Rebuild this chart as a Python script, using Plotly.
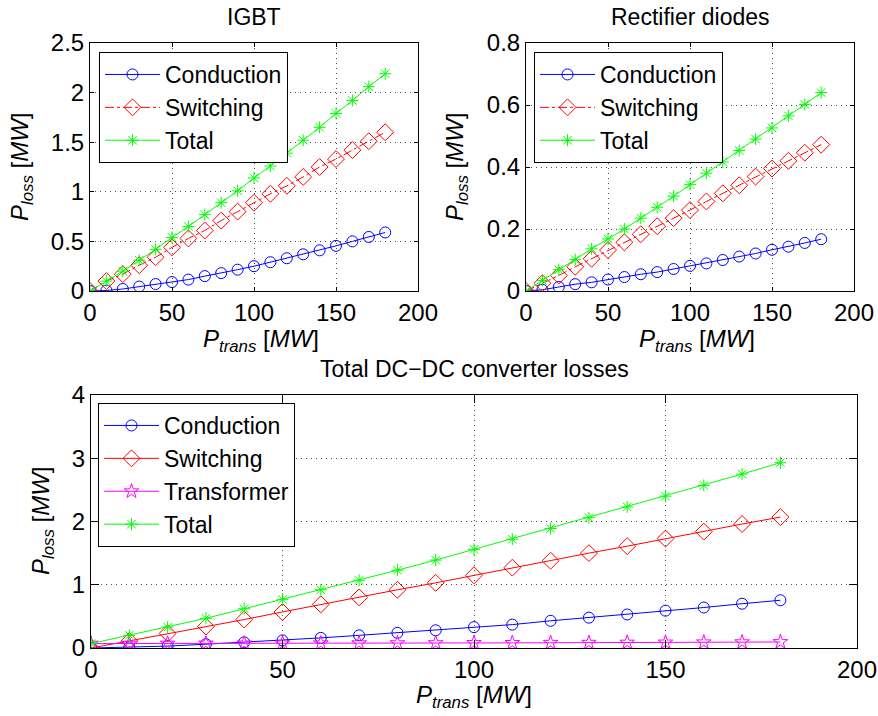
import plotly.graph_objects as go

W, H = 878, 716

x = [0, 10, 20, 30, 40, 50, 60, 70, 80, 90, 100, 110, 120, 130, 140, 150, 160, 170, 180]

igbt_cond = [0, 0.005, 0.02, 0.045, 0.07, 0.09, 0.115, 0.15, 0.18, 0.215, 0.25, 0.29, 0.33, 0.37, 0.41, 0.455, 0.5, 0.545, 0.59]
igbt_sw = [0, 0.1, 0.17, 0.26, 0.34, 0.44, 0.53, 0.61, 0.71, 0.80, 0.89, 0.98, 1.06, 1.15, 1.25, 1.33, 1.42, 1.51, 1.60]
igbt_tot = [0, 0.1, 0.2, 0.31, 0.42, 0.54, 0.65, 0.77, 0.89, 1.01, 1.14, 1.26, 1.39, 1.52, 1.65, 1.79, 1.92, 2.06, 2.19]

rect_cond = [0, 0.004, 0.013, 0.022, 0.028, 0.037, 0.045, 0.054, 0.061, 0.071, 0.081, 0.089, 0.1, 0.111, 0.121, 0.133, 0.143, 0.155, 0.167]
rect_sw = [0, 0.025, 0.05, 0.078, 0.104, 0.132, 0.157, 0.183, 0.209, 0.235, 0.261, 0.289, 0.315, 0.341, 0.369, 0.395, 0.42, 0.446, 0.472]
rect_tot = [0, 0.034, 0.069, 0.101, 0.136, 0.168, 0.2, 0.235, 0.27, 0.306, 0.343, 0.38, 0.416, 0.453, 0.49, 0.526, 0.565, 0.602, 0.64]

dc_cond = [0, 0.01, 0.03, 0.06, 0.09, 0.12, 0.16, 0.2, 0.24, 0.28, 0.33, 0.37, 0.43, 0.48, 0.53, 0.59, 0.64, 0.7, 0.755]
dc_sw = [0, 0.11, 0.23, 0.34, 0.45, 0.57, 0.69, 0.80, 0.92, 1.03, 1.15, 1.27, 1.38, 1.50, 1.61, 1.73, 1.84, 1.96, 2.07]
dc_trafo = [0.07, 0.07, 0.071, 0.072, 0.073, 0.074, 0.075, 0.076, 0.077, 0.078, 0.08, 0.081, 0.083, 0.084, 0.086, 0.088, 0.09, 0.092, 0.095]
dc_tot = [0.07, 0.2, 0.33, 0.47, 0.62, 0.77, 0.92, 1.07, 1.23, 1.39, 1.56, 1.72, 1.89, 2.06, 2.23, 2.40, 2.57, 2.75, 2.93]

titles = ["IGBT", "Rectifier diodes", "Total DC\u2212DC converter losses"]
x_ticks = [0, 50, 100, 150, 200]
y_ticks_igbt = [0, 0.5, 1, 1.5, 2, 2.5]
y_ticks_rect = [0, 0.2, 0.4, 0.6, 0.8]
y_ticks_dc = [0, 1, 2, 3, 4]

BLUE, RED, GREEN, MAG = "#0000ff", "#ff0000", "#00ff00", "#ff00ff"
FONT = "Liberation Sans, Arial, Helvetica, sans-serif"
TICK_SIZE = 24
LEG_SIZE = 23

def px_x(p):
    return p / W

def px_y(p):
    return 1 - p / H

fig = go.Figure()

def add(xa, ya, y, name, color, symbol, size, dash, legend):
    fig.add_trace(go.Scatter(
        x=x, y=y, name=name, mode="lines+markers", xaxis=xa, yaxis=ya,
        line=dict(color=color, width=1, dash=dash),
        marker=dict(symbol=symbol, size=size, color=color, line=dict(color=color, width=1)),
        legend=legend,
    ))

add("x", "y", igbt_cond, "Conduction", BLUE, "circle-open", 11, "solid", "legend")
add("x", "y", igbt_sw, "Switching", RED, "diamond-open", 13, "dashdot", "legend")
add("x", "y", igbt_tot, "Total", GREEN, "asterisk-open", 10, "solid", "legend")

add("x2", "y2", rect_cond, "Conduction", BLUE, "circle-open", 11, "solid", "legend2")
add("x2", "y2", rect_sw, "Switching", RED, "diamond-open", 13, "dashdot", "legend2")
add("x2", "y2", rect_tot, "Total", GREEN, "asterisk-open", 10, "solid", "legend2")

add("x3", "y3", dc_cond, "Conduction", BLUE, "circle-open", 11, "solid", "legend3")
add("x3", "y3", dc_sw, "Switching", RED, "diamond-open", 13, "solid", "legend3")
add("x3", "y3", dc_trafo, "Transformer", MAG, "star-open", 11, "solid", "legend3")
add("x3", "y3", dc_tot, "Total", GREEN, "asterisk-open", 10, "solid", "legend3")

def axis(domain, rng, ticks, anchor, ticklen):
    return dict(
        domain=domain, range=rng, tickvals=ticks, anchor=anchor,
        showline=True, linecolor="black", linewidth=1, mirror="ticks",
        ticks="inside", ticklen=ticklen, tickwidth=1, tickcolor="black",
        showgrid=True, gridcolor="rgba(0,0,0,0.7)", gridwidth=1, griddash="1px,4px",
        zeroline=False, tickfont=dict(size=TICK_SIZE, color="black", family=FONT),
        fixedrange=True, automargin=False,
    )

top_y = [px_y(291), px_y(43)]
bot_y = [px_y(648), px_y(395)]

fig.update_layout(
    width=W, height=H, margin=dict(l=0, r=0, t=0, b=0, autoexpand=False),
    paper_bgcolor="white", plot_bgcolor="white",
    font=dict(family=FONT, size=TICK_SIZE, color="black"),
    xaxis=axis([px_x(90), px_x(418)], [0, 200], x_ticks, "y", 4),
    yaxis=axis(top_y, [0, 2.5], y_ticks_igbt, "x", 4),
    xaxis2=axis([px_x(526), px_x(854)], [0, 200], x_ticks, "y2", 4),
    yaxis2=axis(top_y, [0, 0.8], y_ticks_rect, "x2", 4),
    xaxis3=axis([px_x(91), px_x(857)], [0, 200], x_ticks, "y3", 8),
    yaxis3=axis(bot_y, [0, 4], y_ticks_dc, "x3", 8),
)

def legend_cfg(xp, yp):
    return dict(
        x=px_x(xp), y=px_y(yp), xanchor="left", yanchor="top",
        bgcolor="white", bordercolor="black", borderwidth=1,
        font=dict(size=LEG_SIZE, family=FONT, color="black"),
        itemwidth=55, tracegroupgap=0,
    )

fig.update_layout(
    legend=legend_cfg(99, 52),
    legend2=legend_cfg(534, 52),
    legend3=legend_cfg(98, 403),
)

ylab = "<i>P</i><sub><i>loss</i></sub> [<i>MW</i>]"
xlab = "<i>P</i><sub><i>trans</i></sub> [<i>MW</i>]"

# (x px, y px, text, angle, size, yanchor)
annots = [
    (254, 17, titles[0], 0, 23, "middle"),
    (690, 17, titles[1], 0, 23, "middle"),
    (474, 369, titles[2], 0, 23, "middle"),
    (261, 323, xlab, 0, TICK_SIZE, "top"),
    (697, 323, xlab, 0, TICK_SIZE, "top"),
    (474, 679, xlab, 0, TICK_SIZE, "top"),
    (22, 167, ylab, -90, TICK_SIZE, "middle"),
    (457, 167, ylab, -90, TICK_SIZE, "middle"),
    (42, 521, ylab, -90, TICK_SIZE, "middle"),
]
for ax_, ay_, txt, ang, sz, ya in annots:
    fig.add_annotation(
        x=px_x(ax_), y=px_y(ay_), xref="paper", yref="paper",
        text=txt, showarrow=False, textangle=ang,
        xanchor="center", yanchor=ya,
        font=dict(size=sz, family=FONT, color="black"),
    )

fig.write_html("out.html")
